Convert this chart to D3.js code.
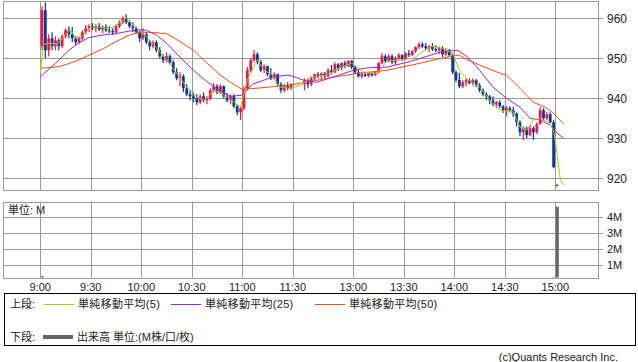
<!DOCTYPE html>
<html>
<head>
<meta charset="utf-8">
<script src="https://cdn.jsdelivr.net/npm/d3@7"></script>
<style>
body { margin: 0; background: #fff; }
svg { display: block; }
text { font-family: "Liberation Sans", "Noto Sans CJK JP", sans-serif; fill: #222; }
</style>
</head>
<body>
<div id="chart"></div>
<script>
// 2分足 [始値, 高値, 安値, 終値]  前場 9:00〜
const amStart = "9:00";
const amCandles = [
  [953,963,952,962],[962,964,950,952],[952,956,950.5,955],[955,956.5,952,953],[953,955.5,952,954.5],
  [954.5,955,952,953],[953,956,952.5,955.5],[955.5,957.5,955,957],[957,958,955,956],[956,957.8,954,955],
  [955,955.5,953.3,954],[954,955.5,953.5,955],[955,957,954.5,956.5],[956.5,958.3,956,957.5],[957.5,958.5,956.5,958],
  [958,958.8,957,957.5],[957.5,958.5,956.5,958],[958,958.8,956.8,957.2],[957.2,958.2,956.3,957.8],[957.8,958.5,956.5,957],
  [957,958,956.3,956.8],[956.8,957.5,955.8,956.5],[956.5,958.5,956,958],[958,959.5,957.5,959],[959,960.5,958.5,960],
  [960,961,958.5,959],[959,959.5,957.5,958],[958,959,956.5,957.5],[957.5,958,956,956.5],[956.5,957,954,955],
  [955,957.5,954.5,956],[956,956.5,953.5,954],[954,954.5,952,953],[953,954.5,952.5,954],[954,954.5,951.5,952],
  [952,952.8,950,950.5],[950.5,951,948.8,949.5],[949.5,951.5,949,950.5],[950.5,951,948.5,949],[949,949.5,946,946.5],
  [946.5,947.5,944.5,945],[945,946.5,943,945.5],[945.5,946,941.5,942.5],[942.5,943.5,940.5,941],[941,942,939.5,940.5],
  [940.5,941.5,939,940],[940,941,938.3,939],[939,941,938.5,940.5],[940.5,941.5,939,939.5],[939.5,940.5,938.5,940],
  [940,942.5,939.5,942],[942,943.8,941.5,943],[943,943.5,941,941.5],[941.5,943.5,941,943],[943,943.2,940,940.5],
  [940.5,941.3,939,939.5],[939.5,941,938.5,940.5],[940.5,941,937.5,938],[938,938.5,935.8,936.5],[936.5,938,934.6,937.5],
  [937.5,943,937,942.5],[942.5,947.8,942,947],[947,950,946.5,949.5],[949.5,952.1,949,951],[951,951.5,948.5,949],
  [949,949.6,946.5,947],[947,948.5,946.3,948],[948,948.2,945.5,946],[946,947.6,944.6,945],[945,946.5,944.5,946],
  [946,946.2,943,943.5],[943.5,944,941.3,942],[942,943.5,941.5,943],[943,944,942,942.5],[942.5,943.8,942,943.5]
];
// 後場 12:30〜
const pmStart = "12:30";
const pmCandles = [
  [943.5,945,942,944.5],[944.5,945,942.5,943.5],[943.5,945.5,943,945],[945,946.2,944.6,946],[946,946.6,945,945.5],
  [945.5,946.5,944.8,946.2],[946.2,946.6,945,945.5],[945.5,947.5,945.3,947],[947,948.3,946,946.5],[946.5,949,946.3,948.5],
  [948.5,948.8,946.8,947.5],[947.5,949,947,948.8],[948.8,949.4,947.5,948],[948,949.6,947.8,949.3],[949.3,949.6,947.3,947.8],
  [947.8,948.2,946,946.5],[946.5,947.2,945.2,945.5],[945.5,946.5,945,946],[946,946.5,945.3,945.6],[945.6,946.6,945.3,946.3],
  [946.3,946.5,945.4,945.8],[945.8,946.8,945.5,946.5],[946.5,949,946.2,948.8],[948.8,951.3,948.5,950.5],[950.5,951,948.8,949.3],
  [949.3,951,949,950.5],[950.5,951,948.5,949],[949,950.5,948.3,950],[950,951.3,949.5,950.8],[950.8,951,949.3,949.8],
  [949.8,951.5,949.6,951.2],[951.2,952.1,950.3,950.8],[950.8,952,950.5,951.8],[951.8,953,951.3,952.8],[952.8,954,952.3,953.5],
  [953.5,954,952.5,953],[953,953.8,952,952.5],[952.5,953.3,951.5,953],[953,953.8,951.8,952.3],[952.3,953.3,951.5,952],
  [952,953,951,952.5],[952.5,953,950.3,951],[951,952.5,950.5,952],[952,952.3,950.5,950.8],[950.8,951.3,946,946.5],
  [946.5,947,944,944.6],[944.6,946.3,942.5,943],[943,944.5,942.5,944],[944,945,943,944.5],[944.5,945,943.5,943.8],
  [943.8,945,943.2,944.5],[944.5,944.8,942.8,943.2],[943.2,943.8,941.5,942],[942,942.5,940.5,941],[941,941.5,939.6,940.5],
  [940.5,940.8,938.5,939.5],[939.5,940.5,938,938.5],[938.5,939.3,937.5,939],[939,939.5,937.5,938],[938,938.3,936.3,937],
  [937,938,935.5,937.5],[937.5,938,936.5,937],[937,937.8,935.3,936.2],[936.2,936.5,933,934],[934,934.5,930.5,931.5],
  [931.5,933,929.6,932.5],[932.5,933,930,930.8],[930.8,933.3,930.5,932.5],[932.5,933,929.6,931.5],[931.5,934,931,933.5],
  [933.5,937.8,933.5,937],[937,937.5,934.5,935],[935,936.6,934.5,936],[936,936.5,933.8,934],[934,934.5,922.5,922.8]
];
// 大引け
const closeTime = "15:00";
const closeCandle = [918.3, 918.5, 918.1, 918.3];

// 単純移動平均
const ma5 = [
  ["9:00",946.6],["9:02",953.5],["9:06",953.8],["9:10",953.5],["9:14",955.5],["9:18",957.2],["9:21",955],
  ["9:25",955.5],["9:30",957.8],["9:35",957.8],["9:41",957.3],["9:46",958.5],["9:51",960],["9:55",958.5],
  ["9:59",957],["10:04",955],["10:09",952.6],["10:15",949.6],["10:21",946.3],["10:27",942.8],["10:33",940.3],
  ["10:38",939.6],["10:43",942],["10:47",941.5],["10:51",940.3],["10:56",938.8],["10:59",937.8],["11:03",944.6],
  ["11:09",949.6],["11:13",947],["11:18",945.8],["11:22",942.8],["11:28",942.5],["11:30",942.6],["12:30",943.5],
  ["12:34",945.3],["12:44",945.8],["12:52",947.6],["12:59",948.8],["13:06",946.6],["13:14",946.1],["13:20",949.3],
  ["13:28",949.6],["13:36",950],["13:40",951.3],["13:46",953],["13:52",952.6],["13:59",951.3],["14:03",947],
  ["14:08",944.6],["14:11",943.8],["14:15",942.8],["14:21",939.6],["14:27",937],["14:35",936.6],["14:39",932.8],
  ["14:43",932],["14:47",934.6],["14:51",935],["14:56",934],["14:59",932],["15:01",926.3],["15:03",919.6],["15:05",918.3]
];
const ma25 = [
  ["9:00",945.4],["9:09",948.7],["9:17",952],["9:23",953.9],["9:29",955.2],["9:37",955.8],["9:45",956.2],
  ["9:53",956.8],["9:59",957.1],["10:03",957],["10:09",955.8],["10:15",953.8],["10:23",950.3],["10:31",947],
  ["10:38",944.5],["10:45",942.3],["10:53",940.5],["11:00",940.8],["11:06",943.5],["11:18",945.3],["11:27",945.8],
  ["11:30",945.5],["12:30",944.6],["12:38",944],["12:48",945.3],["13:00",947],["13:08",947.6],["13:20",947.8],
  ["13:32",949],["13:40",950],["13:52",951.6],["14:02",952],["14:08",950.3],["14:15",947],["14:23",942.8],
  ["14:31",940],["14:39",937.8],["14:45",935],["14:51",934.6],["14:57",933.3],["15:01",931.3],["15:05",930]
];
const ma50 = [
  ["9:00",947.5],["9:11",947.9],["9:17",948.7],["9:23",949.6],["9:29",950.8],["9:37",952.3],["9:45",954.2],
  ["9:53",955.8],["9:59",956.5],["10:06",956.5],["10:15",956.2],["10:23",954.2],["10:31",952],["10:39",948.8],
  ["10:47",945.8],["10:53",944],["11:00",942.2],["11:16",942.8],["11:28",943.3],["12:32",944],["12:48",945.3],
  ["13:04",946.3],["13:20",947],["13:40",948.8],["13:48",949.6],["13:59",950.6],["14:03",950.8],["14:07",949.8],
  ["14:15",948.3],["14:27",946.3],["14:31",945.8],["14:39",942.5],["14:47",939],["14:51",938.3],["14:55",937.5],
  ["14:59",936.3],["15:05",933.5]
];

// 出来高 (M)
const volume = [["9:00",0.33],["14:58",0.28],["15:00",4.66]];

const priceTicks = [920, 930, 940, 950, 960];
const volTicks = [1, 2, 3, 4];
const timeTicks = ["9:00","9:30","10:00","10:30","11:00","11:30","13:00","13:30","14:00","14:30","15:00"];

const W = 638, H = 362;
const plotL = 3, plotR = 598;
const mainTop = 1, mainBot = 190;
const volTop = 201.5, volBot = 277.5;
const upColor = '#f0154a', downColor = '#0a3a9e';
const gridColor = '#999';

// 前場と後場をつないだ分数 (昼休みは6分ぶんの隙間)
function toIndex(s) {
  const [h, m] = s.split(':').map(Number);
  const mins = h * 60 + m;
  return mins <= 690 ? mins - 540 : mins - 750 + 156;
}

const x = d3.scaleLinear().domain([0, 306]).range([40.3, 555.3]);
const y = d3.scaleLinear().domain([920, 960]).range([178.3, 18.3]);
const yv = d3.scaleLinear().domain([0, 4]).range([281.5, 217.3]);

const svg = d3.select('#chart').append('svg')
  .attr('width', W).attr('height', H);

svg.append('clipPath').attr('id', 'clipMain')
  .append('rect').attr('x', plotL).attr('y', mainTop)
  .attr('width', plotR - plotL).attr('height', mainBot - mainTop);
svg.append('clipPath').attr('id', 'clipVol')
  .append('rect').attr('x', plotL).attr('y', volTop)
  .attr('width', plotR - plotL).attr('height', volBot - volTop);

const px = v => Math.round(v) + 0.5;

// グリッド
function drawGrid(top, bot, hTicks, scale) {
  const g = svg.append('g');
  g.selectAll('.v').data(timeTicks).enter().append('line')
    .attr('x1', d => px(x(toIndex(d)))).attr('x2', d => px(x(toIndex(d))))
    .attr('y1', top).attr('y2', bot)
    .attr('stroke', gridColor);
  g.selectAll('.h').data(hTicks).enter().append('line')
    .attr('x1', plotL).attr('x2', plotR + 5)
    .attr('y1', d => px(scale(d))).attr('y2', d => px(scale(d)))
    .attr('stroke', gridColor);
  g.append('rect')
    .attr('x', px(plotL)).attr('y', px(top))
    .attr('width', Math.round(plotR - plotL)).attr('height', Math.round(bot - top))
    .attr('fill', 'none').attr('stroke', gridColor);
}
drawGrid(mainTop, mainBot, priceTicks, y);
drawGrid(volTop, volBot, volTicks, yv);

// ローソク足
const candles = [];
amCandles.forEach((c, i) => candles.push({ t: toIndex(amStart) + i * 2, c }));
pmCandles.forEach((c, i) => candles.push({ t: toIndex(pmStart) + i * 2, c }));
candles.push({ t: toIndex(closeTime), c: closeCandle });

const cg = svg.append('g').attr('clip-path', 'url(#clipMain)');
const cs = cg.selectAll('g.candle').data(candles).enter().append('g');
cs.append('line')
  .attr('x1', d => x(d.t + 1)).attr('x2', d => x(d.t + 1))
  .attr('y1', d => y(d.c[1])).attr('y2', d => y(d.c[2]))
  .attr('stroke', d => d.c[3] > d.c[0] ? upColor : downColor)
  .attr('stroke-width', 1.2);
cs.append('rect')
  .attr('x', d => x(d.t + 1) - 1.4)
  .attr('width', 2.8)
  .attr('y', d => y(Math.max(d.c[0], d.c[3])))
  .attr('height', d => Math.max(1, Math.abs(y(d.c[0]) - y(d.c[3]))))
  .attr('fill', d => d.c[3] > d.c[0] ? upColor : downColor);

// 移動平均線
const line = d3.line().x(d => x(toIndex(d[0]))).y(d => y(d[1]));
[[ma50, '#ff4a10'], [ma25, '#a020f0'], [ma5, '#a8cc00']].forEach(([data, col]) => {
  cg.append('path').datum(data)
    .attr('d', line)
    .attr('fill', 'none')
    .attr('stroke', col)
    .attr('stroke-width', 1);
});

// 出来高
svg.append('g').attr('clip-path', 'url(#clipVol)')
  .selectAll('rect').data(volume).enter().append('rect')
  .attr('x', d => x(toIndex(d[0])) + 0.5)
  .attr('width', 3)
  .attr('y', d => yv(d[1]))
  .attr('height', d => yv(0) - yv(d[1]))
  .attr('fill', '#666');

// 軸ラベル
svg.append('g').selectAll('text').data(priceTicks).enter().append('text')
  .attr('x', 607).attr('y', d => y(d) + 4.5)
  .attr('font-size', 12)
  .text(d => d);
svg.append('g').selectAll('text').data(volTicks).enter().append('text')
  .attr('x', 607).attr('y', d => yv(d) + 4)
  .attr('font-size', 11)
  .text(d => d + 'M');
svg.append('g').selectAll('text').data(timeTicks).enter().append('text')
  .attr('x', d => x(toIndex(d))).attr('y', 291)
  .attr('text-anchor', 'middle')
  .attr('font-size', 11)
  .text(d => d);

svg.append('text').attr('x', 8).attr('y', 214).attr('font-size', 11).text('単位: M');

// 凡例
svg.append('rect').attr('x', 4.5).attr('y', 293.5).attr('width', 631).attr('height', 52)
  .attr('fill', 'none').attr('stroke', '#000');
const legend = svg.append('g').attr('font-size', 11);
legend.append('text').attr('x', 10).attr('y', 308).text('上段:');
legend.append('text').attr('x', 10).attr('y', 341).text('下段:');
const items = [
  { x: 44, col: '#a8cc00', label: '単純移動平均(5)' },
  { x: 171, col: '#a020f0', label: '単純移動平均(25)' },
  { x: 315, col: '#ff4a10', label: '単純移動平均(50)' }
];
items.forEach(it => {
  legend.append('line').attr('x1', it.x).attr('x2', it.x + 30).attr('y1', 304.5).attr('y2', 304.5)
    .attr('stroke', it.col).attr('stroke-width', 1);
  legend.append('text').attr('x', it.x + 34).attr('y', 308)
    .attr('letter-spacing', 0.3).text(it.label);
});
legend.append('line').attr('x1', 43).attr('x2', 73).attr('y1', 337).attr('y2', 337)
  .attr('stroke', '#666').attr('stroke-width', 4);
legend.append('text').attr('x', 77).attr('y', 341).text('出来高 単位:(M株/口/枚)');

svg.append('text').attr('x', 618).attr('y', 361).attr('text-anchor', 'end')
  .attr('font-size', 11).attr('fill', '#444').text('(c)Quants Research Inc.');
</script>
</body>
</html>
